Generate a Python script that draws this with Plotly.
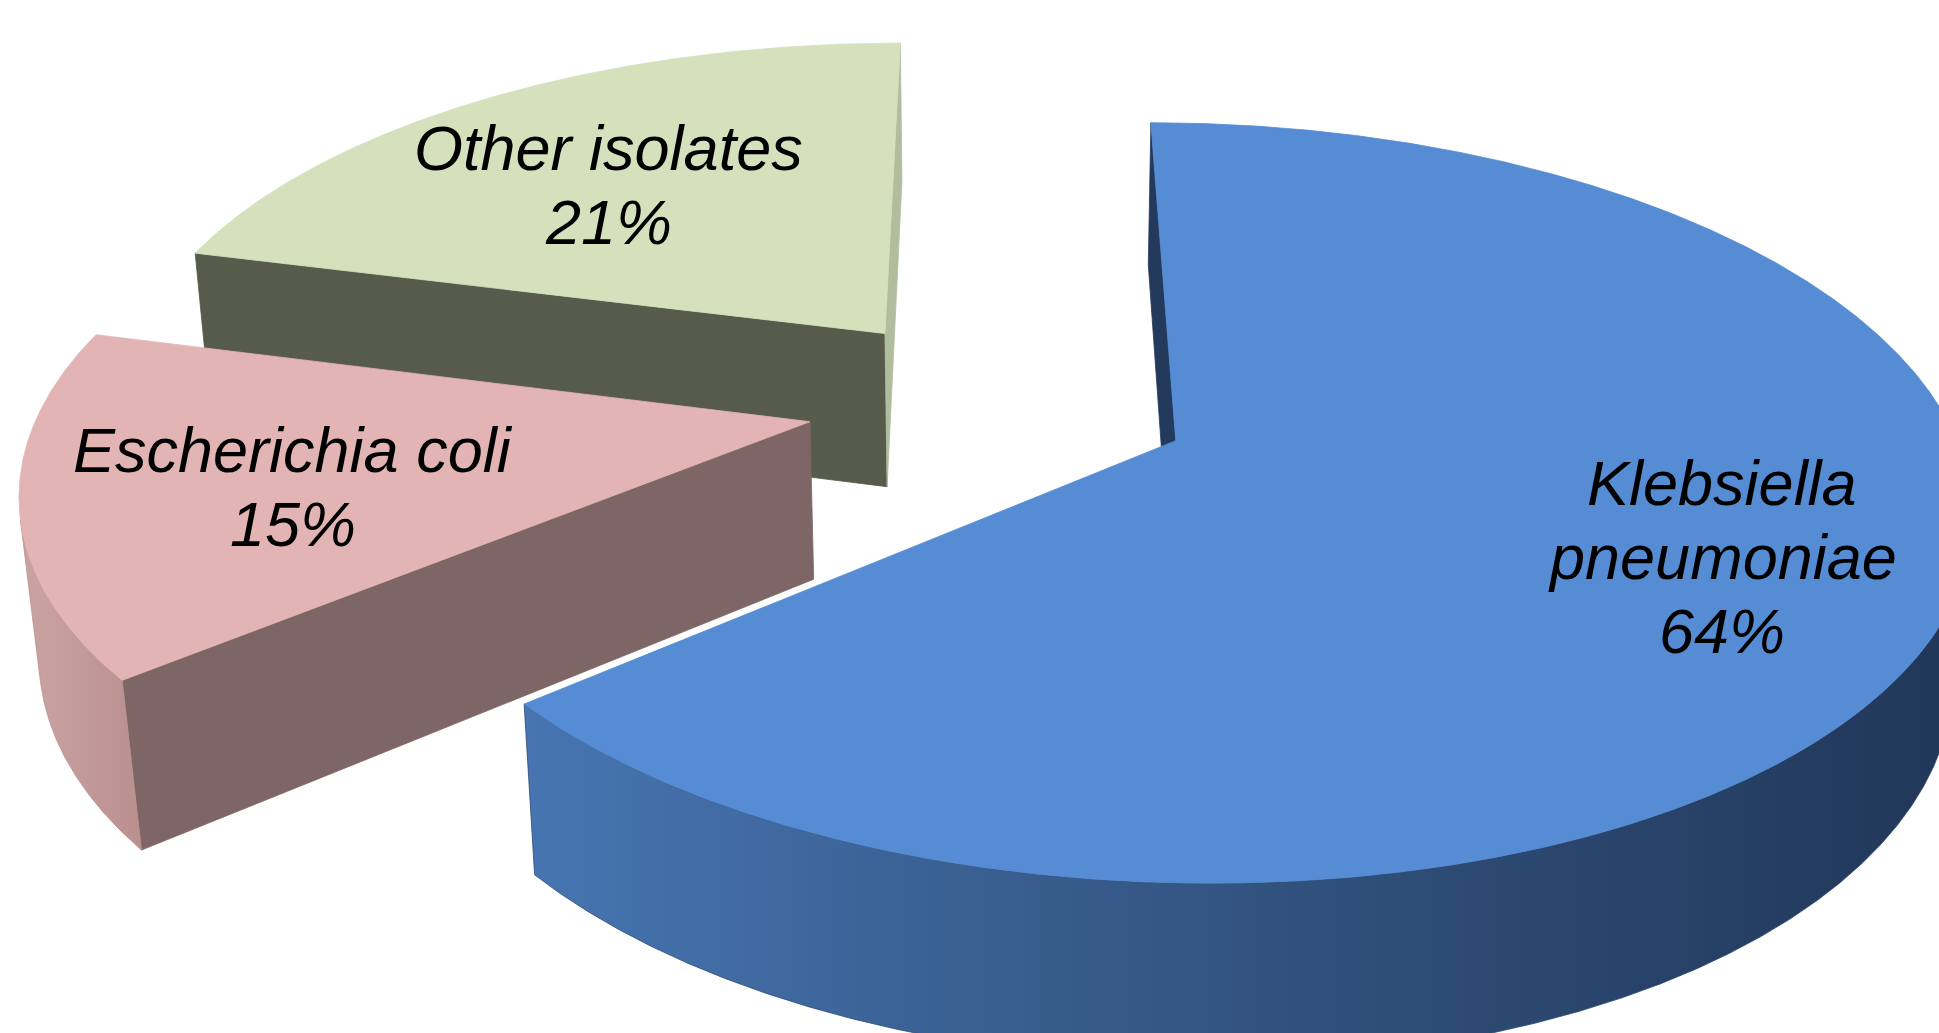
import numpy as np
import plotly.graph_objects as go

# ---------------- data ----------------
categories = ["Klebsiella pneumoniae", "Escherichia coli", "Other isolates"]
values = [64, 15, 21]
label_lines = [["Klebsiella", "pneumoniae"], ["Escherichia coli"], ["Other isolates"]]

# ---------------- style ----------------
top_colors = ["#558CD4", "#E2B5B4", "#D5E0BC"]
start_face_colors = ["#233A5C", "#7E6666", "#575B4B"]
end_face_colors = ["#2E4A78", "#A88584", "#B1BE9E"]
rim_colorscales = [
    [[0, "#4775B2"], [0.3, "#3A6092"], [0.65, "#2C4A73"], [1, "#213658"]],
    [[0, "#CAA4A3"], [1, "#BA908F"]],
    [[0, "#B9C6A3"], [1, "#A9B693"]],
]
label_shift = [(17, 0), (31, 8), (8, 22)]  # pixel nudges (right, down)

W, HGT = 1939, 1033
PX, PY = 999, 402          # screen position of the pie centre
SCALE = 768                # pixels per pie radius at the centre depth
PHI = np.radians(27.74)    # elevation of the view
D0 = 5.50                  # camera distance (in pie radii)
EXPLODE = 0.25
THICK = 0.235
LABEL_R = 0.7
LINE_PITCH = 74
FONT_SIZE = 63

S, C = np.sin(PHI), np.cos(PHI)
CAM = np.array([0.0, -D0 * C, D0 * S])


def project(X, Y, Z):
    X, Y, Z = np.asarray(X, float), np.asarray(Y, float), np.asarray(Z, float)
    w = 1 + (C * Y - S * Z) / D0
    return PX + SCALE * X / w, PY - SCALE * (S * Y + C * Z) / w


def d(t):
    return np.sin(t), np.cos(t)


fig = go.Figure()


def add_poly(X, Y, Z, color=None, colorscale=None):
    xs, ys = project(X, Y, Z)
    xs = np.append(xs, xs[0])
    ys = np.append(ys, ys[0])
    kw = dict(x=xs, y=ys, mode="lines", fill="toself", hoverinfo="skip",
              showlegend=False)
    if colorscale is not None:
        kw["fillgradient"] = dict(type="horizontal", colorscale=colorscale,
                                  start=float(xs.min()), stop=float(xs.max()))
        kw["line"] = dict(width=0.8, color=colorscale[len(colorscale) // 2][1])
    else:
        kw["fillcolor"] = color
        kw["line"] = dict(width=0.8, color=color)
    fig.add_trace(go.Scatter(**kw))


total = float(sum(values))
bounds = np.concatenate([[0], np.cumsum(values)]) / total * 2 * np.pi
slices = []
for i, v in enumerate(values):
    t0, t1 = bounds[i], bounds[i + 1]
    m = 0.5 * (t0 + t1)
    ox, oy = EXPLODE * np.sin(m), EXPLODE * np.cos(m)
    slices.append(dict(i=i, t0=t0, t1=t1, m=m, ox=ox, oy=oy))

# back to front
for sl in sorted(slices, key=lambda s: -s["oy"]):
    i, t0, t1, ox, oy = sl["i"], sl["t0"], sl["t1"], sl["ox"], sl["oy"]
    apex = np.array([ox, oy, 0.0])

    # start cut face
    n0 = np.array([-np.cos(t0), np.sin(t0), 0])
    if np.dot(CAM - apex, n0) > 0:
        sx, sy = d(t0)
        add_poly([ox, ox + sx, ox + sx, ox], [oy, oy + sy, oy + sy, oy],
                 [0, 0, -THICK, -THICK], color=start_face_colors[i])
    # end cut face
    n1 = np.array([np.cos(t1), -np.sin(t1), 0])
    if np.dot(CAM - apex, n1) > 0:
        sx, sy = d(t1)
        add_poly([ox, ox + sx, ox + sx, ox], [oy, oy + sy, oy + sy, oy],
                 [0, 0, -THICK, -THICK], color=end_face_colors[i])

    # outer rim, visible runs only
    ts = np.linspace(t0, t1, max(8, int(np.degrees(t1 - t0) * 4)))
    px_, py_ = ox + np.sin(ts), oy + np.cos(ts)
    vis = ((CAM[0] - px_) * np.sin(ts) + (CAM[1] - py_) * np.cos(ts)) > 0
    idx = np.where(vis)[0]
    if len(idx):
        runs = np.split(idx, np.where(np.diff(idx) > 1)[0] + 1)
        for r in runs:
            if len(r) < 2:
                continue
            rx, ry = px_[r], py_[r]
            X = np.concatenate([rx, rx[::-1]])
            Y = np.concatenate([ry, ry[::-1]])
            Z = np.concatenate([np.zeros(len(r)), np.full(len(r), -THICK)])
            add_poly(X, Y, Z, colorscale=rim_colorscales[i])

    # top face
    X = np.concatenate([[ox], px_])
    Y = np.concatenate([[oy], py_])
    add_poly(X, Y, np.zeros(len(X)), color=top_colors[i])

# labels
annotations = []
for sl in slices:
    i = sl["i"]
    ax, ay = project(sl["ox"] + LABEL_R * np.sin(sl["m"]),
                     sl["oy"] + LABEL_R * np.cos(sl["m"]), 0.0)
    pct = f"{round(values[i] / total * 100)}%"
    lines = label_lines[i] + [pct]
    n = len(lines)
    for k, txt in enumerate(lines):
        annotations.append(dict(
            x=float(ax), y=float(ay + (k - (n - 1) / 2) * LINE_PITCH),
            xref="x", yref="y", text=txt, showarrow=False,
            xanchor="center", yanchor="middle",
            xshift=label_shift[i][0], yshift=-label_shift[i][1],
            font=dict(family="Liberation Sans, Arial, sans-serif",
                      size=FONT_SIZE, color="black", style="italic")))

fig.update_layout(
    width=W, height=HGT, margin=dict(l=0, r=0, t=0, b=0),
    paper_bgcolor="white", plot_bgcolor="white",
    xaxis=dict(range=[0, W], visible=False, fixedrange=True),
    yaxis=dict(range=[HGT, 0], visible=False, fixedrange=True),
    annotations=annotations, showlegend=False,
)
fig.write_html("out.html")
